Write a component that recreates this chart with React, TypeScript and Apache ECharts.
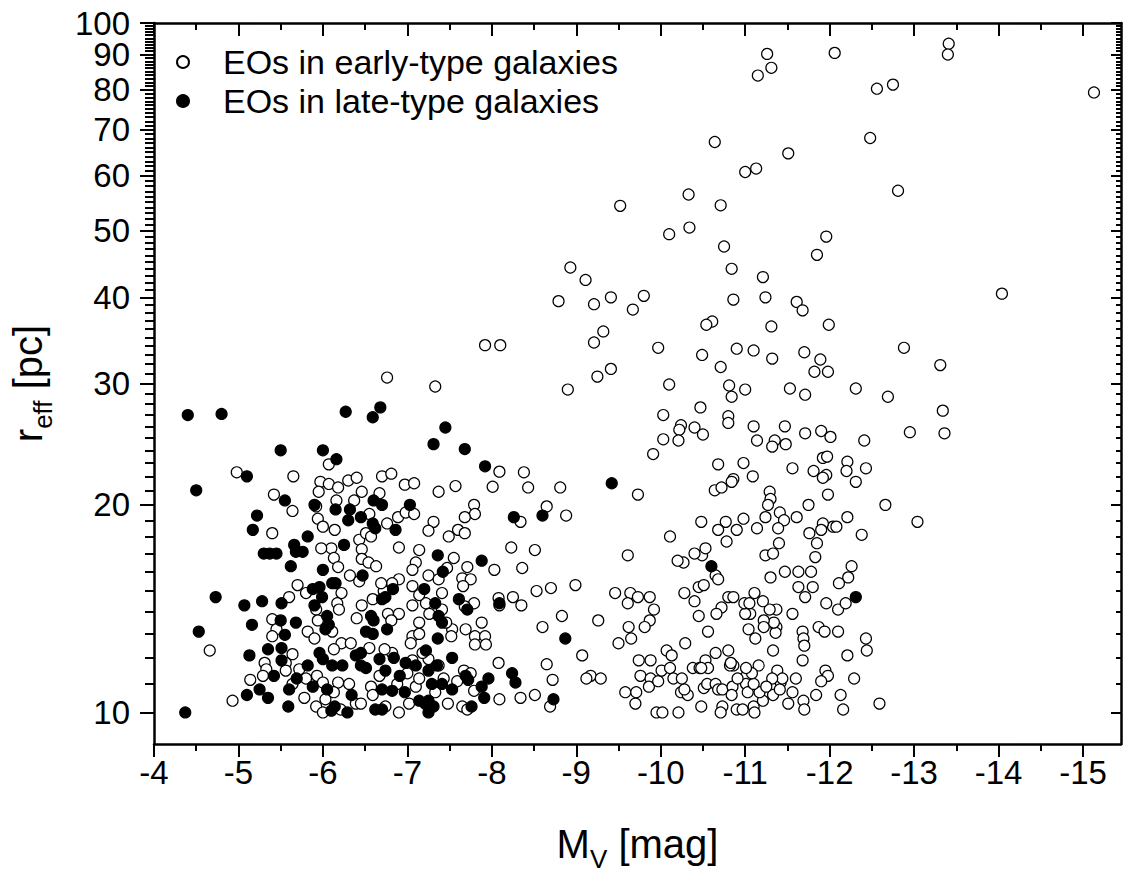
import React, { useEffect, useRef } from "react";
import * as echarts from "echarts";

// [M_V (mag), r_eff (pc)]
const earlyTypeEOs: [number, number][] = [
  [-11.26, 90.2], [-11.31, 86.1], [-11.15, 83.9], [-12.06, 90.5], [-13.41, 93.3], [-13.4, 90.0], [-15.13, 79.3],
  [-12.56, 80.3], [-12.75, 81.4], [-12.48, 68.1], [-10.64, 67.2], [-11.51, 64.7], [-11.0, 60.8], [-11.13, 61.5],
  [-12.81, 57.1], [-9.52, 54.3], [-10.33, 56.4], [-10.71, 54.4], [-10.34, 50.5], [-10.1, 49.4], [-10.75, 47.4],
  [-11.96, 49.0], [-11.85, 46.1], [-8.93, 44.2], [-9.11, 42.4], [-10.84, 44.0], [-11.21, 42.8], [-14.04, 40.5],
  [-8.79, 39.5], [-9.21, 39.1], [-9.41, 40.0], [-9.8, 40.2], [-9.67, 38.4], [-10.86, 39.7], [-11.24, 40.0],
  [-11.61, 39.4], [-11.68, 38.3], [-10.61, 36.9], [-10.54, 36.5], [-9.32, 35.7], [-9.21, 34.4], [-11.31, 36.3],
  [-11.99, 36.5], [-9.97, 33.8], [-10.49, 33.0], [-10.9, 33.7], [-11.1, 33.5], [-11.32, 32.6], [-10.71, 31.7],
  [-11.7, 33.3], [-11.89, 32.5], [-11.82, 31.2], [-11.98, 31.2], [-12.88, 33.8], [-13.31, 31.9], [-8.9, 29.4],
  [-9.25, 30.7], [-9.41, 31.5], [-10.1, 29.9], [-10.81, 29.8], [-10.84, 28.7], [-11.0, 29.4], [-11.53, 29.5],
  [-11.71, 28.9], [-12.31, 29.5], [-12.69, 28.7], [-10.47, 27.7], [-10.03, 27.0], [-10.8, 26.9], [-10.8, 26.3],
  [-13.34, 27.4], [-10.24, 26.1], [-10.22, 25.7], [-10.4, 25.9], [-10.5, 25.3], [-10.03, 24.9], [-10.21, 24.8],
  [-11.1, 26.0], [-11.47, 26.0], [-11.71, 25.4], [-11.9, 25.6], [-12.01, 25.1], [-11.14, 24.8], [-11.35, 24.8],
  [-11.32, 24.3], [-11.48, 24.5], [-12.41, 24.8], [-12.95, 25.5], [-13.36, 25.4], [-9.91, 23.7], [-10.68, 22.9],
  [-10.98, 23.0], [-11.09, 22.0], [-10.86, 21.8], [-11.56, 22.6], [-11.81, 22.4], [-11.92, 23.4], [-11.97, 23.5],
  [-11.96, 22.1], [-11.92, 21.9], [-12.21, 23.1], [-12.2, 22.4], [-12.43, 22.6], [-12.31, 21.6],
  [-8.88, 19.3], [-9.73, 20.7], [-10.64, 21.0], [-10.72, 21.2], [-10.84, 21.6], [-11.29, 20.9], [-11.3, 20.4],
  [-11.27, 20.0], [-11.41, 19.5], [-11.46, 19.0], [-11.61, 19.2], [-11.75, 20.0], [-11.98, 20.7], [-12.66, 20.0],
  [-13.04, 18.9], [-12.21, 19.2], [-12.38, 18.1], [-12.04, 18.6], [-12.08, 18.6], [-11.92, 18.8], [-11.9, 18.4],
  [-11.76, 18.2], [-11.85, 17.6], [-11.83, 16.8], [-11.14, 18.5], [-11.39, 18.5], [-11.24, 19.2], [-10.98, 19.1],
  [-10.9, 18.4], [-10.77, 18.9], [-10.68, 18.4], [-10.78, 17.7], [-10.48, 18.9], [-10.11, 18.0], [-9.61, 16.9],
  [-11.4, 17.6], [-11.24, 16.9], [-11.33, 17.0], [-11.3, 15.7], [-11.47, 16.0], [-11.63, 16.0], [-11.78, 16.0],
  [-11.63, 15.2], [-11.8, 15.2], [-11.71, 14.7], [-12.26, 16.3], [-12.22, 15.7], [-12.11, 15.4], [-11.96, 14.4],
  [-12.1, 14.1], [-12.19, 14.4], [-12.1, 13.1], [-12.43, 12.8], [-12.44, 12.3], [-12.21, 12.1], [-12.29, 11.2],
  [-12.13, 10.6], [-12.16, 10.1], [-12.59, 10.3], [-11.87, 13.3], [-11.94, 13.1], [-11.68, 13.1], [-11.69, 12.8],
  [-11.7, 12.5], [-11.68, 11.9], [-11.95, 11.5], [-11.98, 11.3], [-11.9, 11.1], [-11.84, 10.6], [-11.69, 10.4],
  [-11.7, 10.1], [-11.6, 11.2], [-11.56, 10.7], [-11.51, 10.3], [-11.42, 11.05], [-11.38, 11.5], [-11.33, 12.3],
  [-11.37, 13.3], [-11.36, 13.05], [-11.34, 13.5], [-11.37, 14.1], [-11.29, 14.1], [-11.22, 13.6], [-11.22, 13.3],
  [-11.12, 12.8], [-11.04, 13.2], [-11.06, 13.9], [-11.0, 13.9], [-10.99, 14.4], [-11.05, 14.4], [-11.11, 14.9],
  [-11.21, 14.5], [-11.56, 13.9], [-10.8, 14.7], [-10.86, 14.7], [-10.72, 14.2], [-10.66, 13.9], [-10.45, 13.8],
  [-10.56, 13.1], [-10.4, 14.5], [-10.28, 14.9], [-10.45, 15.2], [-10.51, 15.3], [-10.65, 15.8], [-10.68, 15.6],
  [-10.49, 16.9], [-10.4, 17.0], [-10.53, 17.3], [-10.27, 16.5], [-10.2, 16.6], [-9.46, 14.9], [-9.64, 14.9],
  [-9.73, 14.7], [-9.87, 14.7], [-9.61, 14.4], [-9.92, 14.1], [-9.87, 13.6], [-9.81, 13.3], [-9.62, 13.3],
  [-9.65, 12.8], [-9.5, 12.6], [-9.26, 13.6], [-9.07, 12.1], [-9.17, 11.3], [-9.12, 11.2], [-9.29, 11.2],
  [-9.58, 10.7], [-9.71, 10.7], [-9.7, 10.3], [-9.74, 11.9], [-9.88, 11.9], [-9.76, 11.3], [-9.88, 11.2],
  [-9.86, 10.9], [-9.97, 11.1], [-10.01, 11.5], [-9.95, 10.0], [-10.02, 10.0], [-10.21, 10.0], [-10.07, 12.3],
  [-10.13, 12.1], [-10.11, 11.6], [-10.15, 11.2], [-10.24, 10.7], [-10.32, 10.6], [-10.28, 10.8], [-10.29, 12.6],
  [-10.38, 11.6], [-10.46, 11.6], [-10.53, 11.9], [-10.51, 10.85], [-10.48, 10.2], [-10.55, 11.0], [-10.65, 11.0],
  [-10.68, 10.8], [-10.73, 10.8], [-10.65, 12.2], [-10.8, 12.3], [-10.86, 11.7], [-10.82, 11.7], [-11.0, 11.25],
  [-11.01, 11.0], [-11.03, 10.7], [-10.85, 10.9], [-10.84, 10.6], [-10.73, 10.2], [-10.71, 10.0], [-10.9, 10.1],
  [-10.97, 10.1], [-11.1, 10.2], [-11.11, 10.0], [-11.21, 10.4], [-11.17, 10.7], [-11.1, 11.0], [-11.16, 11.7],
  [-11.08, 11.4], [-11.01, 11.6], [-11.33, 10.6], [-11.41, 10.8], [-11.44, 11.2], [-11.32, 11.2], [-11.25, 10.9],
  [-10.56, 11.6], [-10.48, 11.6], [-10.83, 11.8], [-10.91, 11.2], [-10.25, 11.2],
  [-6.76, 30.6], [-7.33, 29.7], [-7.92, 34.1], [-8.1, 34.1], [-4.98, 22.3], [-5.65, 22.0], [-6.07, 22.9],
  [-5.42, 20.7], [-5.64, 19.6], [-5.4, 18.2], [-5.97, 21.6], [-6.07, 21.45], [-6.18, 21.2], [-6.3, 21.7],
  [-6.4, 21.9], [-6.46, 20.9], [-6.37, 20.3], [-6.16, 20.3], [-5.95, 20.9], [-5.92, 19.9], [-5.94, 19.1],
  [-6.0, 18.6], [-6.14, 18.4], [-6.1, 17.3], [-6.13, 16.75], [-6.18, 16.25], [-5.98, 17.3], [-6.43, 17.8],
  [-6.46, 17.25], [-6.46, 16.7], [-6.32, 15.8], [-6.43, 15.5], [-6.54, 16.5], [-6.63, 16.3], [-6.51, 18.2],
  [-6.57, 18.0], [-6.55, 19.4], [-6.67, 20.8], [-6.7, 22.0], [-6.81, 22.2], [-6.97, 21.4], [-7.08, 21.5],
  [-6.76, 18.8], [-6.89, 19.2], [-6.98, 19.5], [-7.08, 19.4], [-6.9, 17.35], [-7.14, 17.2], [-7.1, 16.5],
  [-7.06, 16.1], [-7.25, 15.8], [-7.31, 18.9], [-7.25, 18.35], [-7.37, 20.9], [-7.57, 21.3], [-7.79, 20.0],
  [-7.8, 19.4], [-7.68, 19.2], [-7.6, 18.4], [-7.68, 18.2], [-7.49, 18.0], [-8.09, 22.35], [-8.38, 22.3],
  [-8.01, 21.25], [-8.43, 21.2], [-8.81, 21.2], [-8.65, 19.9], [-8.34, 18.9], [-8.23, 17.35], [-8.51, 17.2],
  [-7.55, 16.75], [-7.47, 16.2], [-7.71, 16.25], [-7.65, 15.65], [-7.75, 15.6], [-8.03, 16.1], [-8.36, 16.2],
  [-8.53, 15.0], [-8.7, 15.15], [-8.99, 15.3], [-8.83, 13.8], [-8.6, 13.3], [-8.08, 14.65], [-8.25, 14.7],
  [-8.35, 14.3], [-8.09, 14.3], [-8.08, 11.8], [-8.65, 11.75], [-8.72, 11.15], [-8.51, 10.6], [-8.34, 10.5],
  [-8.09, 10.45], [-8.69, 10.2], [-7.88, 13.5], [-7.8, 12.9], [-7.92, 12.9], [-7.8, 12.55], [-7.93, 12.55],
  [-7.79, 14.4], [-7.68, 14.25], [-7.66, 15.25], [-7.69, 13.2], [-7.53, 13.2], [-7.52, 12.9], [-7.46, 13.5],
  [-7.41, 14.1], [-7.26, 13.9], [-7.22, 14.4], [-7.14, 13.5], [-7.06, 12.9], [-7.14, 13.0], [-7.04, 12.6],
  [-7.41, 14.9], [-7.37, 15.6], [-7.06, 15.25], [-7.14, 14.8], [-6.9, 15.6], [-6.82, 15.4], [-6.72, 15.0],
  [-6.69, 15.4], [-6.59, 14.6], [-6.77, 13.9], [-6.9, 13.9], [-6.81, 13.6], [-6.46, 14.3], [-6.4, 13.7],
  [-7.06, 14.3], [-6.22, 14.9], [-6.17, 14.4], [-6.19, 14.1], [-5.8, 14.9], [-5.7, 15.3], [-5.6, 14.7],
  [-5.92, 14.1], [-5.94, 13.6], [-5.82, 13.1], [-5.9, 12.8], [-6.11, 13.1], [-6.22, 12.6], [-6.13, 12.35],
  [-5.4, 13.65], [-5.45, 13.2], [-5.4, 12.9], [-5.64, 12.15], [-5.56, 11.8], [-5.31, 11.8], [-5.33, 11.55],
  [-5.56, 11.5], [-5.72, 11.55], [-5.8, 11.2], [-5.93, 11.3], [-6.0, 11.05], [-6.18, 11.05], [-6.31, 11.0],
  [-6.03, 10.45], [-6.13, 10.7], [-5.92, 10.2], [-6.0, 10.0], [-6.21, 10.1], [-6.39, 10.3], [-6.45, 10.3],
  [-6.57, 10.9], [-6.59, 10.6], [-6.74, 10.2], [-6.9, 10.0], [-7.02, 10.3], [-7.1, 10.9], [-7.0, 11.4],
  [-7.14, 11.2], [-7.37, 11.7], [-7.33, 10.7], [-7.48, 10.3], [-7.65, 10.2], [-7.71, 10.1], [-7.67, 11.5],
  [-7.75, 11.4], [-7.79, 10.75], [-7.59, 11.1], [-7.43, 11.2], [-7.25, 11.95], [-7.18, 12.2], [-7.06, 11.9],
  [-6.82, 12.2], [-6.73, 12.35], [-6.55, 12.4], [-6.33, 12.6], [-6.67, 11.3], [-6.88, 11.0], [-5.78, 10.5],
  [-5.64, 11.0], [-5.29, 11.3], [-5.14, 11.15], [-4.93, 10.4], [-4.66, 12.3]
];

const lateTypeEOs: [number, number][] = [
  [-4.4, 27.0], [-4.8, 27.1], [-6.27, 27.3], [-6.59, 26.8], [-6.68, 27.7], [-7.45, 25.9], [-7.31, 24.5],
  [-7.68, 24.1], [-5.5, 24.0], [-6.0, 24.0], [-6.16, 23.3], [-7.92, 22.75], [-5.1, 22.0], [-4.5, 21.0],
  [-5.55, 20.3], [-5.9, 20.0], [-6.15, 19.7], [-6.32, 19.7], [-6.45, 19.2], [-6.3, 19.0], [-6.6, 20.3],
  [-6.7, 20.0], [-6.59, 18.8], [-6.62, 18.5], [-6.86, 18.4], [-7.03, 20.0], [-5.22, 19.3], [-5.17, 18.4],
  [-5.82, 18.0], [-6.25, 17.5], [-8.26, 19.2], [-8.6, 19.3], [-5.3, 17.0], [-5.37, 17.0], [-5.45, 17.0],
  [-5.66, 17.5], [-5.68, 17.1], [-5.76, 17.1], [-5.62, 16.3], [-6.0, 16.1], [-7.36, 16.9], [-7.42, 16.0],
  [-7.88, 16.6], [-6.47, 15.8], [-6.11, 15.4], [-6.15, 15.4], [-5.88, 15.1], [-5.96, 15.2], [-5.99, 14.7],
  [-5.9, 14.3], [-6.05, 13.8], [-6.07, 13.4], [-6.03, 13.2], [-6.74, 14.7], [-6.83, 15.1], [-6.7, 14.6],
  [-6.57, 13.8], [-6.6, 13.6], [-6.51, 13.1], [-6.59, 13.0], [-6.76, 13.2], [-7.2, 15.1], [-7.33, 14.4],
  [-7.37, 13.8], [-7.41, 13.5], [-7.36, 12.8], [-7.61, 14.6], [-7.71, 14.1], [-8.09, 14.4], [-4.73, 14.7],
  [-5.07, 14.3], [-5.28, 14.5], [-5.51, 14.4], [-5.5, 13.6], [-5.68, 13.5], [-5.16, 13.4], [-4.53, 13.1],
  [-5.55, 12.96], [-5.13, 12.1], [-5.35, 12.35], [-5.51, 12.4], [-5.51, 11.9], [-5.42, 11.3], [-5.25, 10.8],
  [-5.1, 10.6], [-5.35, 10.5], [-5.59, 10.2], [-4.37, 10.0], [-5.69, 11.2], [-5.6, 10.8], [-5.82, 11.7],
  [-5.96, 12.2], [-6.0, 11.95], [-6.11, 11.7], [-6.23, 11.7], [-6.05, 10.8], [-5.88, 10.9], [-6.1, 10.06],
  [-6.14, 10.2], [-6.29, 10.0], [-6.34, 10.6], [-6.39, 12.1], [-6.45, 12.2], [-6.45, 11.7], [-6.51, 11.6],
  [-6.67, 11.95], [-6.74, 11.5], [-6.7, 10.8], [-6.62, 10.1], [-6.7, 10.1], [-6.82, 10.75], [-6.91, 11.3],
  [-6.84, 12.0], [-6.98, 11.8], [-7.1, 11.7], [-7.25, 11.5], [-7.22, 12.3], [-7.35, 11.7], [-7.53, 12.0],
  [-7.29, 11.0], [-7.41, 11.0], [-7.53, 10.8], [-7.25, 10.4], [-7.31, 10.2], [-7.21, 10.3], [-7.25, 10.0],
  [-6.97, 10.7], [-7.14, 10.4], [-7.69, 11.3], [-7.72, 11.15], [-7.88, 10.9], [-7.96, 11.2], [-7.91, 10.5],
  [-7.76, 10.2], [-8.24, 11.4], [-8.28, 11.05], [-8.73, 10.45], [-8.87, 12.8], [-9.42, 21.5], [-10.6, 16.3],
  [-12.31, 14.7]
];

const xMajorTicks = [-4, -5, -6, -7, -8, -9, -10, -11, -12, -13, -14, -15];
const xMinorTicks = [-4.5, -5.5, -6.5, -7.5, -8.5, -9.5, -10.5, -11.5, -12.5, -13.5, -14.5];
const yMajorTicks = [10, 20, 30, 40, 50, 60, 70, 80, 90, 100];
const yLabelsLower = [10, 20, 30, 40, 50, 60, 70, 80, 90];
const yLabelsTop = [100];
const yMinorTicks = [
  11, 12, 13, 14, 15, 16, 17, 18, 19, 21, 22, 23, 24, 25, 26, 27, 28, 29, 31, 32, 33, 34, 35, 36, 37, 38, 39,
  41, 42, 43, 44, 45, 46, 47, 48, 49, 51, 52, 53, 54, 55, 56, 57, 58, 59, 61, 62, 63, 64, 65, 66, 67, 68, 69,
  71, 72, 73, 74, 75, 76, 77, 78, 79, 81, 82, 83, 84, 85, 86, 87, 88, 89, 91, 92, 93, 94, 95, 96, 97, 98, 99
];

const X_MIN = -15.45;
const X_MAX = -4;
const Y_MIN = 9;
const Y_MAX = 100;

const FONT = "'Liberation Sans', Arial, Helvetica, sans-serif";
const BLACK = "#000";

export default function App() {
  const ref = useRef<HTMLDivElement>(null);

  useEffect(() => {
    if (!ref.current) return;
    const chart = echarts.init(ref.current, undefined, { renderer: "svg" });
    const lg = (v: number) => Math.log10(v);
    const hidden = { show: false };
    const xBase = {
      type: "value" as const,
      min: X_MIN,
      max: X_MAX,
      inverse: true,
      splitLine: hidden,
      gridIndex: 0,
    };
    const yHelperBase = {
      type: "value" as const,
      min: lg(Y_MIN),
      max: lg(Y_MAX),
      splitLine: hidden,
      axisLabel: hidden,
      axisLine: hidden,
      axisTick: hidden,
    };
    const yLabelStyle = (values: number[]) => ({
      show: true,
      customValues: values.map(lg),
      fontSize: 33,
      fontFamily: FONT,
      color: BLACK,
      margin: 24,
      showMinLabel: true,
      showMaxLabel: true,
      hideOverlap: false,
      formatter: (v: number) => String(Math.round(Math.pow(10, v))),
    });
    const option: any = {
      animation: false,
      backgroundColor: "#fff",
      textStyle: { fontFamily: FONT, color: BLACK },
      grid: { left: 151, right: 7, top: 23, bottom: 127, containLabel: false },
      legend: {
        orient: "vertical",
        left: 176,
        top: 45,
        padding: 0,
        itemWidth: 12,
        itemHeight: 12,
        itemGap: 5,
        selectedMode: false,
        textStyle: { fontFamily: FONT, fontSize: 34, color: BLACK, lineHeight: 34, padding: [0, 0, 0, 29] },
        data: ["EOs in early-type galaxies", "EOs in late-type galaxies"],
      },
      xAxis: [
        {
          ...xBase,
          position: "bottom",
          axisLine: { show: true, onZero: false, lineStyle: { color: BLACK, width: 2.5 } },
          axisTick: { show: true, customValues: xMajorTicks, length: 13, lineStyle: { color: BLACK, width: 2 } },
          axisLabel: {
            show: true,
            customValues: xMajorTicks,
            fontSize: 33,
            fontFamily: FONT,
            color: BLACK,
            margin: 12,
            showMinLabel: true,
            showMaxLabel: true,
            formatter: (v: number) => String(v),
          },
          name: "{m|M}{s|V}{m| [mag]}",
          nameLocation: "middle",
          nameGap: 72,
          nameTextStyle: {
            rich: {
              m: { fontSize: 40, fontFamily: FONT, color: BLACK, lineHeight: 56 },
              s: { fontSize: 26, fontFamily: FONT, color: BLACK, lineHeight: 26, verticalAlign: "bottom" },
            },
          },
        },
        {
          ...xBase,
          position: "bottom",
          axisLine: { show: false, onZero: false },
          axisTick: { show: true, customValues: xMinorTicks, length: 7, lineStyle: { color: BLACK, width: 2 } },
          axisLabel: hidden,
        },
        {
          ...xBase,
          position: "top",
          axisLine: { show: true, onZero: false, lineStyle: { color: BLACK, width: 2.5 } },
          axisTick: { show: true, inside: true, customValues: xMajorTicks, length: 13, lineStyle: { color: BLACK, width: 2 } },
          axisLabel: hidden,
        },
        {
          ...xBase,
          position: "top",
          axisLine: { show: false, onZero: false },
          axisTick: { show: true, inside: true, customValues: xMinorTicks, length: 7, lineStyle: { color: BLACK, width: 2 } },
          axisLabel: hidden,
        },
      ],
      yAxis: [
        {
          type: "log",
          logBase: 10,
          min: Y_MIN,
          max: Y_MAX,
          position: "left",
          splitLine: hidden,
          minorTick: hidden,
          axisTick: hidden,
          axisLabel: hidden,
          axisLine: { show: true, onZero: false, lineStyle: { color: BLACK, width: 2.5 } },
          name: "{m|r}{s|eff}{m| [pc]}",
          nameLocation: "middle",
          nameRotate: 90,
          nameGap: 98,
          nameTextStyle: {
            rich: {
              m: { fontSize: 40, fontFamily: FONT, color: BLACK, lineHeight: 56 },
              s: { fontSize: 26, fontFamily: FONT, color: BLACK, lineHeight: 26, verticalAlign: "bottom" },
            },
          },
        },
        {
          ...yHelperBase,
          position: "left",
          axisTick: { show: true, customValues: yMajorTicks.map(lg), length: 14, lineStyle: { color: BLACK, width: 2 } },
          axisLabel: yLabelStyle(yLabelsLower),
        },
        {
          ...yHelperBase,
          position: "left",
          axisTick: { show: true, customValues: yMinorTicks.map(lg), length: 9, lineStyle: { color: BLACK, width: 2 } },
        },
        {
          ...yHelperBase,
          position: "right",
          axisLine: { show: true, onZero: false, lineStyle: { color: BLACK, width: 2.5 } },
          axisTick: { show: true, inside: true, customValues: yMajorTicks.map(lg), length: 10, lineStyle: { color: BLACK, width: 2 } },
        },
        {
          ...yHelperBase,
          position: "right",
          axisTick: { show: true, inside: true, customValues: yMinorTicks.map(lg), length: 5, lineStyle: { color: BLACK, width: 2 } },
        },
        {
          ...yHelperBase,
          position: "left",
          axisLabel: yLabelStyle(yLabelsTop),
        },
      ],
      series: [
        {
          name: "EOs in early-type galaxies",
          type: "scatter",
          xAxisIndex: 0,
          yAxisIndex: 0,
          symbol: "circle",
          symbolSize: 11,
          itemStyle: { color: "#fff", borderColor: BLACK, borderWidth: 1.2, opacity: 1 },
          data: earlyTypeEOs,
        },
        {
          name: "EOs in late-type galaxies",
          type: "scatter",
          xAxisIndex: 0,
          yAxisIndex: 0,
          symbol: "circle",
          symbolSize: 11,
          itemStyle: { color: BLACK, borderColor: BLACK, borderWidth: 1.2, opacity: 1 },
          data: lateTypeEOs,
        },
      ],
    };
    chart.setOption(option);
    return () => chart.dispose();
  }, []);

  return (
    <div
      ref={ref}
      style={{ position: "absolute", left: 0, top: 0, width: 1128, height: 877, background: "#fff" }}
    />
  );
}
